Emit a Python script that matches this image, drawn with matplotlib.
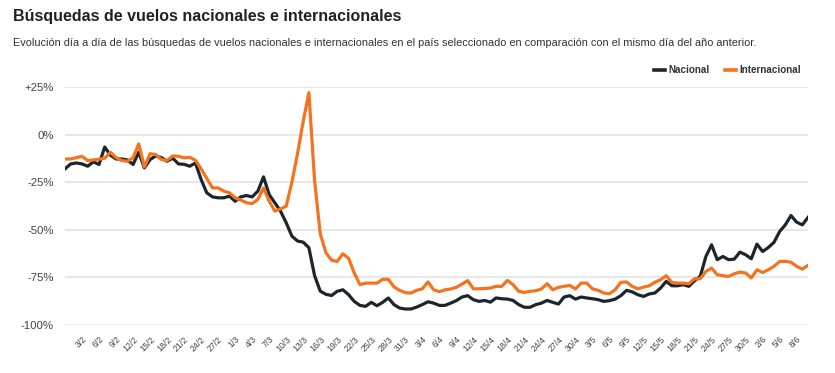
import matplotlib
matplotlib.use("Agg")
import matplotlib.pyplot as plt
import pandas as pd

plt.rcParams['font.family'] = ['Liberation Sans', 'DejaVu Sans']

# daily values, 31/1/2020 .. 10/6/2020 (% vs same day previous year)
fechas = pd.date_range("2020-01-31", "2020-06-10", freq="D")

nacional = [
    -18, -15.4, -14.9, -15.4, -16.6, -14.3, -15.7, -6.5, -10.8, -12.8,
    -12.8, -13.3, -15.7, -9.3, -17.5, -13.1, -11.2, -12.1, -14, -12.4,
    -15.4, -15.6, -16.6, -14.9, -23.6, -30.6, -32.7, -33.2, -33.2, -32.3,
    -35, -32.7, -32, -32.7, -29.7, -22.2, -31.5, -35.8, -40.2, -46.3,
    -53.3, -55.9, -56.5, -59.4, -74, -82.2, -83.9, -84.5, -82.3, -81.5,
    -84.1, -87.6, -89.7, -90.2, -88.1, -89.9, -88.1, -85.8, -89.3, -91.1,
    -91.6, -91.6, -90.6, -89.3, -87.8, -88.5, -89.7, -89.7, -88.5, -87.2,
    -85.3, -84.6, -86.7, -87.6, -87.1, -88, -85.8, -86.2, -86.4, -87.1,
    -89.3, -90.7, -90.7, -89.3, -88.5, -87.1, -88.1, -89, -85.3, -84.6,
    -86.4, -85.3, -85.8, -86.2, -86.7, -87.6, -87.2, -86.4, -84.6, -81.8,
    -82.6, -84.1, -85, -83.7, -83.2, -80.6, -77.1, -79.4, -79.4, -78.8,
    -79.7, -76.7, -74.5, -64, -57.9, -65.7, -64, -65.7, -65.4, -61.7,
    -63.1, -65.2, -57.5, -61.4, -59.3, -56.6, -50.9, -47.4, -42.5, -46,
    -47.4, -43.5,
]

internacional = [
    -12.8, -12.8, -12.1, -11.4, -13.6, -13.3, -12.9, -12.4, -9.3, -12.1,
    -13.6, -14, -12.2, -4.9, -17, -10, -10.5, -13.1, -13.6, -11.2,
    -11.4, -12.2, -11.9, -13.5, -18, -23, -28, -28, -29.7, -30.6,
    -33.2, -34.4, -35.8, -36.2, -34.1, -28, -35, -40.2, -39, -37.6,
    -25, -10, 7, 22, -24, -52, -62, -66, -66.6, -62.6,
    -65, -72.7, -78.8, -78, -78, -78, -76, -76, -80, -81.8,
    -83, -83.2, -81.8, -81, -77.4, -81.5, -82.5, -81.5, -81.1, -80.2,
    -78.5, -76.7, -81, -81, -80.8, -80.6, -79.7, -79.7, -76.6, -78.8,
    -82.3, -82.9, -82.3, -82, -81.1, -78.3, -81.5, -80.2, -79.7, -79.2,
    -81.1, -78, -78, -81, -81.8, -83.2, -83.6, -81.5, -77.6, -77.4,
    -79.7, -81, -80.1, -79.4, -77.6, -76.2, -74.1, -77.6, -78, -78,
    -78.3, -75.7, -75.7, -71.9, -70.1, -73.6, -74.1, -74.5, -73.1, -72.2,
    -72.7, -75.3, -71, -72.4, -71, -69.2, -66.6, -66.6, -67, -69.2,
    -70.6, -68.7,
]

y_ticks = [25, 0, -25, -50, -75, -100]
y_labels = ["+25%", "0%", "-25%", "-50%", "-75%", "-100%"]

# x labels every 3 days starting on 3/2
tick_idx = list(range(3, len(fechas) - 1, 3))
tick_labels = [f"{fechas[i].day}/{fechas[i].month}" for i in tick_idx]

col_nac = "#1d252c"
col_int = "#f4731f"

fig = plt.figure(figsize=(8.35, 3.73), dpi=100)
ax = fig.add_axes([65 / 835, 1 - 325 / 373, 743 / 835, 238 / 373])

x = list(range(len(fechas)))
ax.plot(x, nacional, color=col_nac, lw=2.3, solid_joinstyle="round", label="Nacional", zorder=3)
ax.plot(x, internacional, color=col_int, lw=2.3, solid_joinstyle="round", label="Internacional", zorder=3)

ax.set_xlim(0, len(fechas) - 1)
ax.set_ylim(-100, 25)
ax.set_yticks(y_ticks)
ax.set_yticklabels(y_labels)
ax.set_xticks(tick_idx)
ax.set_xticklabels(tick_labels, rotation=45, ha="right", rotation_mode="anchor")

ax.grid(axis="y", color="#e3e3e3", lw=1.2)
ax.set_axisbelow(True)
for s in ax.spines.values():
    s.set_visible(False)
ax.tick_params(axis="y", length=0, pad=8, labelsize=8.2, labelcolor="#444444")
ax.tick_params(axis="x", length=0, pad=7, labelsize=6.3, labelcolor="#444444")

fig.text(13 / 835, 1 - 17 / 373, "Búsquedas de vuelos nacionales e internacionales",
         fontsize=11.5, fontweight="bold", color="#222222", va="center", ha="left")
fig.text(13 / 835, 1 - 43 / 373,
         "Evolución día a día de las búsquedas de vuelos nacionales e internacionales en el país "
         "seleccionado en comparación con el mismo día del año anterior.",
         fontsize=7.95, color="#333333", va="center", ha="left")

leg = ax.legend(loc="center right", bbox_to_anchor=(810 / 835, 1 - 70 / 373),
                bbox_transform=fig.transFigure, ncol=2, frameon=False,
                handlelength=1.1, handletextpad=0.4, columnspacing=1.5,
                prop={"weight": "bold", "size": 7.1})
for h in leg.get_lines():
    h.set_linewidth(2.6)
for t in leg.get_texts():
    t.set_color("#333333")

fig.savefig("out.png", dpi=100)
